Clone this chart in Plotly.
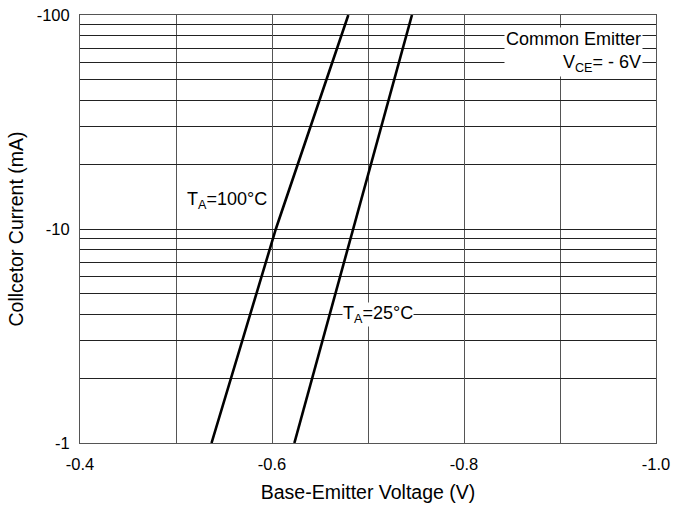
import plotly.graph_objects as go

# Data (Vbe in V, Ic in mA magnitude)
ic_100 = [1, 10, 100]
vbe_100 = [-0.537, -0.604, -0.6795]
ic_25 = [1, 10, 100]
vbe_25 = [-0.6233, -0.6846, -0.7458]

x_tickvals = [-0.4, -0.6, -0.8, -1.0]
x_ticktext = ["-0.4", "-0.6", "-0.8", "-1.0"]
x_minor_vals = [-0.5, -0.7, -0.9]
y_tickvals = [1, 10, 100]
y_ticktext = ["-1", "-10", "-100"]
y_minor_vals = [2, 3, 4, 5, 6, 7, 8, 9, 20, 30, 40, 50, 60, 70, 80, 90]

FONT = "Liberation Sans, Arial, sans-serif"

fig = go.Figure()
fig.add_trace(go.Scatter(x=vbe_100, y=ic_100, mode="lines",
                         line=dict(color="black", width=2.6), showlegend=False))
fig.add_trace(go.Scatter(x=vbe_25, y=ic_25, mode="lines",
                         line=dict(color="black", width=2.6), showlegend=False))

fig.update_layout(
    width=674, height=505,
    margin=dict(l=80, r=18, t=15, b=62),
    paper_bgcolor="white", plot_bgcolor="white",
    font=dict(family=FONT, size=16, color="black"),
    xaxis=dict(
        range=[-0.4, -1.0], automargin=False, ticklabeloverflow="allow",
        tickmode="array", tickvals=x_tickvals, ticktext=x_ticktext,
        showgrid=True, gridcolor="#555", gridwidth=1,
        minor=dict(tickmode="array", tickvals=x_minor_vals, showgrid=True,
                   gridcolor="#555", gridwidth=1, ticks=""),
        zeroline=False,
        showline=True, linecolor="#555", linewidth=1, mirror=True,
        ticks="", ticklabelstandoff=6,
        tickfont=dict(size=16.5),
        title=dict(text="Base-Emitter Voltage (V)", font=dict(size=19.5), standoff=13),
    ),
    yaxis=dict(
        type="log", range=[0, 2], automargin=False, ticklabeloverflow="allow",
        tickmode="array", tickvals=y_tickvals, ticktext=y_ticktext,
        showgrid=True, gridcolor="#222", gridwidth=1,
        minor=dict(tickmode="array", tickvals=y_minor_vals, showgrid=True,
                   gridcolor="#222", gridwidth=1, ticks=""),
        zeroline=False,
        showline=True, linecolor="#555", linewidth=1, mirror=True,
        ticks="", ticklabelstandoff=6,
        tickfont=dict(size=16.5),
        title=dict(text="Collcetor Current (mA)", font=dict(size=19.5), standoff=7),
    ),
)

fig.add_annotation(x=-0.5536, y=1.131, xref="x", yref="y",
                   text="T<sub>A</sub>=100°C", showarrow=False,
                   font=dict(size=18), bgcolor="white")
fig.add_annotation(x=-0.7104, y=0.602, xref="x", yref="y",
                   text="T<sub>A</sub>=25°C", showarrow=False,
                   font=dict(size=18), bgcolor="white", borderpad=0)
fig.add_annotation(x=0.977, y=0.9136, xref="paper", yref="paper",
                   xanchor="right", yanchor="middle", align="right",
                   text="Common Emitter<br>V<sub>CE</sub>= - 6V", showarrow=False,
                   font=dict(size=18), bgcolor="white")

fig.write_html("out.html", config={"displayModeBar": False},
               post_script="document.body.style.margin='0';document.body.style.overflow='hidden';")
